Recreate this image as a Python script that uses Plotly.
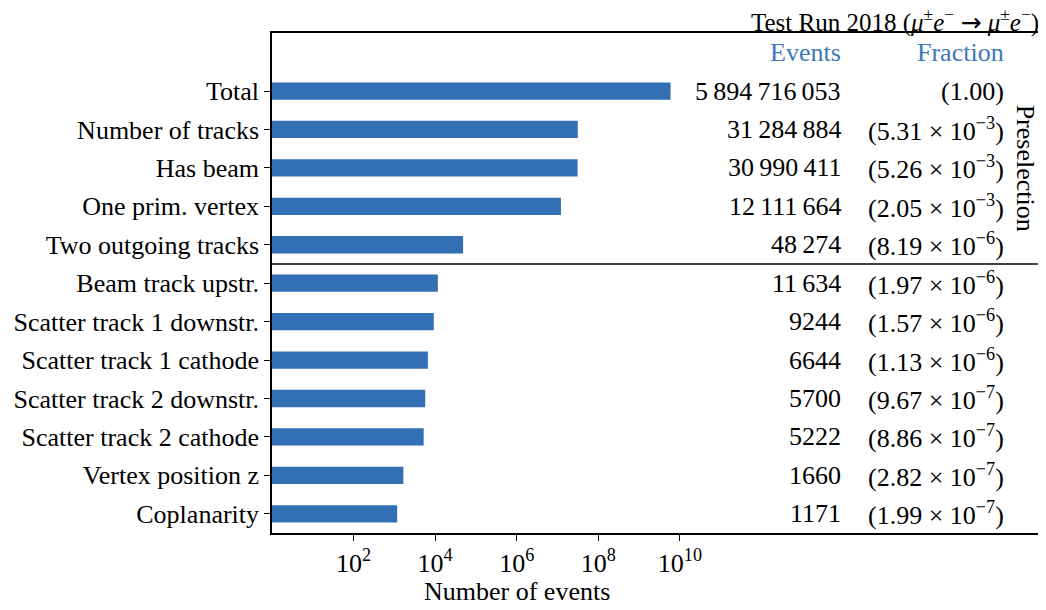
import plotly.graph_objects as go

# ============================== >>> Data <<< ==============================
cuts = [
    "Total", "Number of tracks", "Has beam", "One prim. vertex",
    "Two outgoing tracks", "Beam track upstr.", "Scatter track 1 downstr.",
    "Scatter track 1 cathode", "Scatter track 2 downstr.",
    "Scatter track 2 cathode", "Vertex position z", "Coplanarity",
]
events = [
    5894716053, 31284884, 30990411, 12111664, 48274, 11634, 9244,
    6644, 5700, 5222, 1660, 1171,
]
frac_mantissa = [1.00, 5.31, 5.26, 2.05, 8.19, 1.97, 1.57, 1.13, 9.67, 8.86, 2.82, 1.99]
frac_exponent = [0, -3, -3, -3, -6, -6, -6, -6, -7, -7, -7, -7]
xtick_exp = [2, 4, 6, 8, 10]

FONT = "Liberation Serif"
BAR = "#3370b3"
HEAD = "#3c78ba"
FS = 26


def fmt_events(n):
    s = f"{n:,}".replace(",", "\u2009")
    # 4-digit numbers are written without a separator
    return s.replace("\u2009", "") if n < 10000 else s


def fmt_frac(m, e):
    if e == 0:
        return f"({m:.2f})"
    return f"({m:.2f} \u00d7 10<sup>\u2212{-e}</sup>)"


ypos = list(range(len(cuts)))

fig = go.Figure()
fig.add_trace(go.Bar(
    x=events, y=ypos, orientation="h", width=0.45,
    marker=dict(color=BAR, line=dict(width=0)), base=1,
))

ann = []
for i, (n, m, e) in enumerate(zip(events, frac_mantissa, frac_exponent)):
    ann.append(dict(x=14, y=i, xref="x", yref="y", text=fmt_events(n),
                    xanchor="right", yanchor="middle", showarrow=False))
    ann.append(dict(x=18, y=i, xref="x", yref="y", text=fmt_frac(m, e),
                    xanchor="right", yanchor="middle", showarrow=False))

mue = "<i>\u03bc</i><sup>\u00b1</sup><i>e</i><sup>\u2212</sup>"
arrow = "\u00a0<span style='font-family:DejaVu Sans'>\u2192</span>\u00a0"
ann += [
    dict(x=14, y=-1, xref="x", yref="y", text="Events", xanchor="right",
         yanchor="middle", showarrow=False, font=dict(color=HEAD)),
    dict(x=18, y=-1, xref="x", yref="y", text="Fraction", xanchor="right",
         yanchor="middle", showarrow=False, font=dict(color=HEAD)),
    dict(x=0.977, y=2, xref="paper", yref="y", text="Preselection",
         textangle=90, xanchor="center", yanchor="middle", showarrow=False),
    dict(x=1.0, y=1.0, xref="paper", yref="paper", yshift=-6, xshift=-2,
         text=f"Test Run 2018 ({mue}{arrow}{mue})",
         xanchor="right", yanchor="bottom", showarrow=False, font=dict(size=25)),
    dict(x=6, y=0, xref="x", yref="paper", yshift=-42, text="Number of events",
         xanchor="center", yanchor="top", showarrow=False),
]

# page body has an 8px margin, so the figure is sized to fit the window
fig.update_layout(
    width=1038, height=602,
    margin=dict(l=264, r=3, t=25, b=77, autoexpand=False),
    paper_bgcolor="white", plot_bgcolor="white",
    font=dict(family=FONT, size=FS, color="black"),
    showlegend=False,
    annotations=ann,
    shapes=[dict(type="line", xref="paper", yref="y", x0=0, x1=1, y0=4.5, y1=4.5,
                 line=dict(color="black", width=1.3))],
)
fig.update_xaxes(
    type="log", range=[0, 18.9], automargin=False,
    tickvals=[10 ** k for k in xtick_exp],
    ticktext=[f"10<sup>{k}</sup>" for k in xtick_exp],
    ticks="outside", ticklen=6, tickwidth=1.3, tickcolor="black",
    showline=True, linecolor="black", linewidth=1.5, mirror=True,
    showgrid=False, zeroline=False,
)
fig.update_yaxes(
    range=[11.5, -1.51], automargin=False,
    tickvals=ypos, ticktext=cuts,
    ticks="outside", ticklen=6, tickwidth=1.3, tickcolor="black",
    showline=True, linecolor="black", linewidth=1.5, mirror=True,
    showgrid=False, zeroline=False,
)

fig.write_html("out.html")
